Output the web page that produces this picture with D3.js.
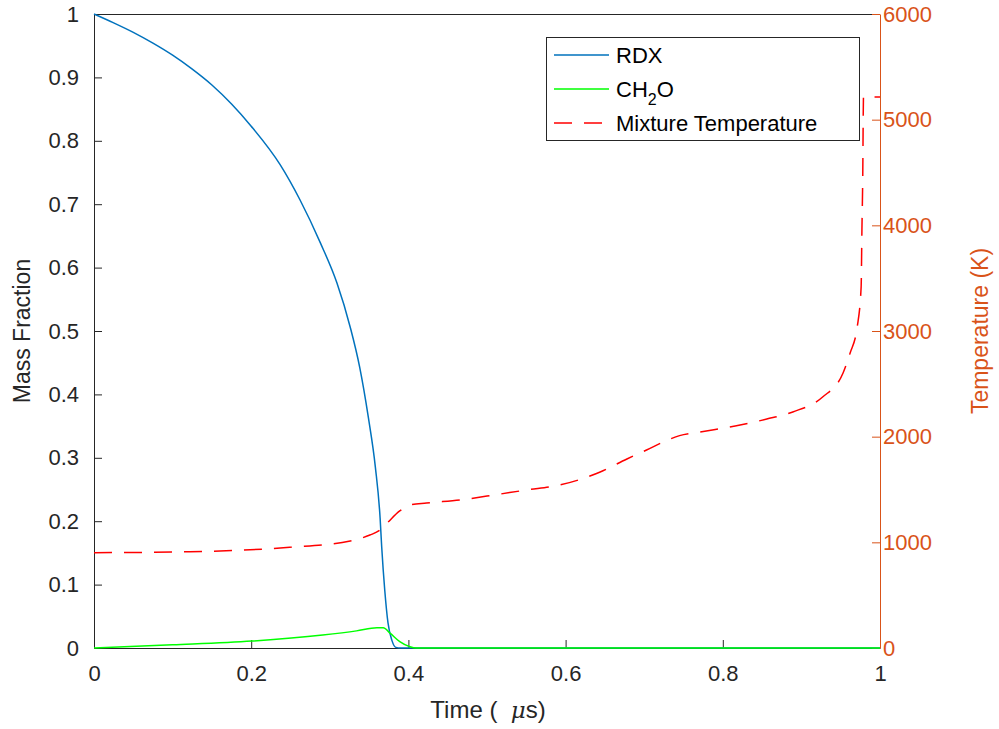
<!DOCTYPE html>
<html>
<head>
<meta charset="utf-8">
<script src="https://cdn.jsdelivr.net/npm/d3@7"></script>
<style>
  html, body { margin: 0; padding: 0; background: #fff; }
  svg text { font-family: "Liberation Sans", Arial, Helvetica, sans-serif; }
</style>
</head>
<body>
<svg id="chart" width="999" height="729"></svg>
<script>
// Time axis (µs) and series samples
const rdxTime = [0, 0.025, 0.05, 0.075, 0.1, 0.125, 0.15, 0.175, 0.2, 0.237, 0.262, 0.288, 0.309, 0.326, 0.338, 0.349, 0.358, 0.364, 0.366, 0.370, 0.374, 0.379, 0.384, 0.39, 1.0];
const rdxMass = [1.0, 0.986, 0.971, 0.954, 0.935, 0.913, 0.888, 0.858, 0.823, 0.762, 0.707, 0.639, 0.576, 0.506, 0.443, 0.364, 0.285, 0.205, 0.16, 0.09, 0.04, 0.012, 0.001, 0, 0];

const ch2oTime = [0, 0.1, 0.201, 0.291, 0.334, 0.36, 0.368, 0.377, 0.389, 0.402, 0.41, 1.0];
const ch2oMass = [0, 0.005, 0.011, 0.0205, 0.027, 0.032, 0.032, 0.023, 0.010, 0.002, 0, 0];

const tempTime = [0, 0.122, 0.249, 0.326, 0.351, 0.364, 0.373, 0.389, 0.402, 0.423, 0.466, 0.5, 0.55, 0.593, 0.644, 0.678, 0.703, 0.729, 0.745, 0.771, 0.822, 0.856, 0.889, 0.927, 0.953, 0.962, 0.971, 0.976, 0.977, 0.978, 0.979, 1.0];
const tempK = [902, 911, 953, 1013, 1069, 1117, 1183, 1297, 1353, 1372, 1401, 1438, 1495, 1543, 1666, 1789, 1874, 1965, 2010, 2044, 2110, 2167, 2234, 2375, 2603, 2792, 3038, 3416, 3956, 4429, 5215, 5215];

const xTicks = [0, 0.2, 0.4, 0.6, 0.8, 1];
const yLeftTicks = [0, 0.1, 0.2, 0.3, 0.4, 0.5, 0.6, 0.7, 0.8, 0.9, 1];
const yRightTicks = [0, 1000, 2000, 3000, 4000, 5000, 6000];

const legendItems = ["RDX", "CH2O", "Mixture Temperature"];

const colBlue = "#0072BD", colGreen = "#00FF00", colRed = "#FF0000", colOrange = "#D95319", colAxis = "#262626";

const svg = d3.select("#chart");
const L = 94, R = 880, T = 14, B = 648;

const x = d3.scaleLinear().domain([0, 1]).range([L, R]);
const yL = d3.scaleLinear().domain([0, 1]).range([B, T]);
const yR = d3.scaleLinear().domain([0, 6000]).range([B, T]);

const fmt = d => String(+d.toFixed(2));

// top border
svg.append("line").attr("x1", L).attr("x2", R).attr("y1", T + 0.5).attr("y2", T + 0.5)
  .attr("stroke", colAxis).attr("stroke-width", 1);

// bottom axis
const gx = svg.append("g").attr("transform", `translate(0,${B})`)
  .call(d3.axisBottom(x).tickValues(xTicks).tickFormat(fmt).tickSizeInner(-8).tickSizeOuter(0).tickPadding(17));
// left axis
const gyl = svg.append("g").attr("transform", `translate(${L},0)`)
  .call(d3.axisLeft(yL).tickValues(yLeftTicks).tickFormat(fmt).tickSizeInner(-8).tickSizeOuter(0).tickPadding(15));
// right axis
const gyr = svg.append("g").attr("transform", `translate(${R},0)`)
  .call(d3.axisRight(yR).tickValues(yRightTicks).tickFormat(d3.format("d")).tickSizeInner(-8).tickSizeOuter(0).tickPadding(3));

[gx, gyl].forEach(g => {
  g.select(".domain").attr("stroke", colAxis);
  g.selectAll(".tick line").attr("stroke", colAxis);
  g.selectAll(".tick text").attr("fill", colAxis).style("font-size", "22px");
});
gyr.select(".domain").attr("stroke", colOrange);
gyr.selectAll(".tick line").attr("stroke", colOrange);
gyr.selectAll(".tick text").attr("fill", colOrange).style("font-size", "22px");

// series
const zip = (a, b) => a.map((v, i) => [v, b[i]]);
const lineL = d3.line().x(d => x(d[0])).y(d => yL(d[1])).curve(d3.curveMonotoneX);
const lineR = d3.line().x(d => x(d[0])).y(d => yR(d[1])).curve(d3.curveMonotoneX);

const plot = svg.append("g");
plot.append("path").datum(zip(rdxTime, rdxMass)).attr("d", lineL)
  .attr("fill", "none").attr("stroke", colBlue).attr("stroke-width", 1.5);
plot.append("path").datum(zip(ch2oTime, ch2oMass)).attr("d", lineL)
  .attr("fill", "none").attr("stroke", colGreen).attr("stroke-width", 1.5);
plot.append("path").datum(zip(tempTime, tempK)).attr("d", lineR)
  .attr("fill", "none").attr("stroke", colRed).attr("stroke-width", 1.5)
  .attr("stroke-dasharray", "18,12");

// axis labels
const xl = svg.append("text").attr("x", 488).attr("y", 718).attr("text-anchor", "middle")
  .attr("fill", colAxis).style("font-size", "24px");
xl.append("tspan").text("Time (\u00a0\u00a0");
xl.append("tspan").style("font-style", "italic").style("font-family", "'DejaVu Serif', serif").style("font-size", "23px").text("μ");
xl.append("tspan").text("s)");
svg.append("text").attr("transform", `translate(30,${(T + B) / 2}) rotate(-90)`)
  .attr("text-anchor", "middle").attr("fill", colAxis).style("font-size", "23px").text("Mass Fraction");
svg.append("text").attr("transform", `translate(988,${(T + B) / 2}) rotate(-90)`)
  .attr("text-anchor", "middle").attr("fill", colOrange).style("font-size", "23px").text("Temperature (K)");

// legend
const lg = svg.append("g");
lg.append("rect").attr("x", 546.5).attr("y", 37.5).attr("width", 313).attr("height", 103)
  .attr("fill", "#fff").attr("stroke", colAxis).attr("stroke-width", 1);
const rows = [
  { y: 55, color: colBlue, dash: null },
  { y: 89, color: colGreen, dash: null },
  { y: 123, color: colRed, dash: "18,12" }
];
rows.forEach((r, i) => {
  lg.append("line").attr("x1", 554).attr("x2", 609).attr("y1", r.y).attr("y2", r.y)
    .attr("stroke", r.color).attr("stroke-width", 1.5).attr("stroke-dasharray", r.dash);
  const t = lg.append("text").attr("x", 616).attr("y", r.y + 8).attr("fill", "#000").style("font-size", "22px");
  if (legendItems[i] === "CH2O") {
    t.append("tspan").text("CH");
    t.append("tspan").attr("dy", 8).style("font-size", "16px").text("2");
    t.append("tspan").attr("dy", -8).text("O");
  } else {
    t.text(legendItems[i]);
  }
});
</script>
</body>
</html>
